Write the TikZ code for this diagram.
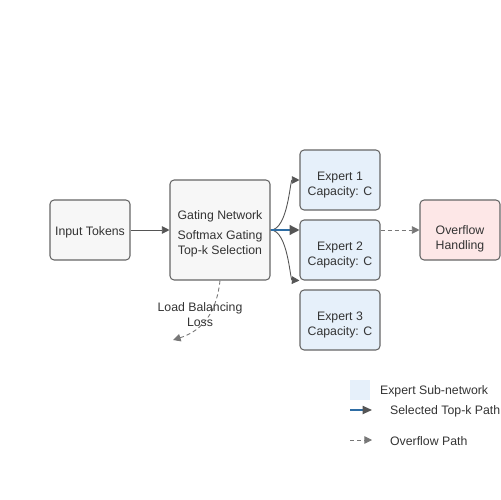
\documentclass[tikz,border=0pt]{standalone}
\usepackage{fontspec}
\setmainfont{Liberation Sans}
\usetikzlibrary{arrows.meta,positioning,calc}
\definecolor{linegray}{HTML}{555555}
\definecolor{textgray}{HTML}{333333}
\definecolor{boxgray}{HTML}{F7F7F7}
\definecolor{expertblue}{HTML}{E6F0FA}
\definecolor{overflowpink}{HTML}{FDE7E7}
\definecolor{pathblue}{HTML}{2E6DA4}

\begin{document}
\begin{tikzpicture}[
    x=0.03cm, y=-0.03cm,
    every node/.style={font=\fontsize{10.5}{13.1}\selectfont, text=textgray},
    box/.style={rectangle, rounded corners=3.5pt, draw=linegray!90, fill=boxgray, line width=0.9pt, minimum height=1.8cm, minimum width=2.4cm, align=center, inner sep=0pt, text depth=2.1pt},
    expert/.style={box, fill=expertblue, text height=29pt},
    arrow/.style={-{Triangle[length=6.5pt, width=6.5pt]}, line width=0.75pt, draw=linegray},
    toppath/.style={-{Triangle[length=8.5pt, width=8.5pt, color=linegray]}, line width=1.2pt, draw=pathblue},
    legpath/.style={toppath, -{Triangle[length=8pt, width=7pt, color=linegray]}},
    flowpath/.style={arrow, dashed, dash pattern=on 3.5pt off 2.5pt, draw=linegray!80}
]
\useasboundingbox (0,0) rectangle (500,500);

% main boxes
\node[box, text height=12pt] (input) at (90,230) {Input Tokens};
\node[box, minimum width=3cm, minimum height=3cm, text height=44pt] (gate) at (220,230) {Gating Network\\[4pt]Softmax Gating\\Top-k Selection};
\node[expert] (exp1) at (340,180) {Expert 1\\Capacity: C};
\node[expert] (exp2) at (340,250) {Expert 2\\Capacity: C};
\node[expert] (exp3) at (340,320) {Expert 3\\Capacity: C};
\node[box, fill=overflowpink, text height=36pt] (over) at (460,230) {Overflow\\Handling};

% routing
\draw[arrow] (input) -- (gate);
\draw[arrow] (gate.east) .. controls (288,230) and (290,180) .. (exp1.west);
\draw[arrow] (gate.east) .. controls (288,230) and (290,280) .. (exp2.south west);
\draw[toppath] (gate.east) -- (exp2.west |- gate.east);
\draw[flowpath] (exp2.east |- over.west) -- (over.west);

% auxiliary loss
\coordinate (lossend) at (173,340);
\draw[flowpath] (gate.south) .. controls (216,318) and (198,332) .. (lossend);
\node[align=center] (loss) at (200,314.5) {Load Balancing\\Loss};

% legend
\node[rectangle, fill=expertblue, minimum size=0.6cm, inner sep=0pt] (legbox) at (360,390) {};
\node[anchor=west] (legexp) at (376,391) {Expert Sub-network};
\coordinate (legsel) at (350,410);
\coordinate (legselend) at (372,410);
\draw[legpath] (legsel) -- (legselend);
\node[anchor=west] (legseltext) at (386,411) {Selected Top-k Path};
\coordinate (legover) at (350,440);
\coordinate (legoverend) at (372,440);
\draw[flowpath] (legover) -- (legoverend);
\node[anchor=west] (legovertext) at (386,441) {Overflow Path};

\end{tikzpicture}
\end{document}
